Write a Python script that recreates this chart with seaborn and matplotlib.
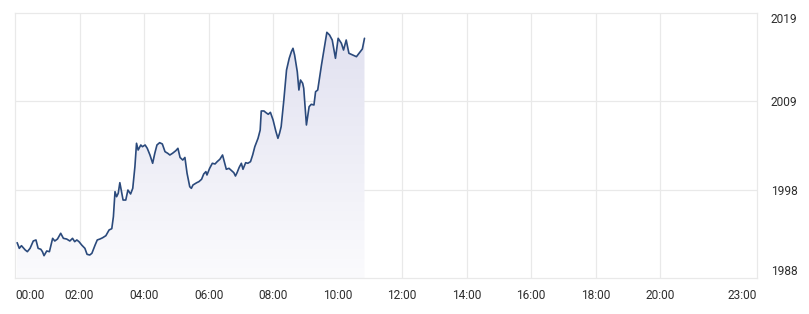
import numpy as np
import pandas as pd
import matplotlib
matplotlib.use("Agg")
import matplotlib.pyplot as plt
import seaborn as sns
from matplotlib.colors import LinearSegmentedColormap

# ---- data (minutes after 00:00, price) ----
minutes = [4, 8, 12, 19, 23, 28, 34, 39, 43, 48, 51, 54, 59, 64, 70, 74, 79, 85, 90, 96,
           102, 107, 111, 115, 119, 124, 130, 134, 139, 143, 149, 153, 158, 163, 169, 175,
           180, 183, 186, 189, 192, 195, 198, 201, 206, 210, 215, 219, 223, 226, 229, 234,
           237, 242, 246, 251, 256, 260, 264, 269, 274, 279, 284, 288, 293, 299, 303, 307,
           312, 316, 320, 325, 328, 331, 338, 342, 347, 351, 355, 357, 362, 367, 372, 376,
           381, 386, 390, 393, 398, 403, 407, 410, 413, 417, 421, 424, 429, 433, 438, 442,
           446, 452, 456, 458, 463, 466, 471, 475, 480, 485, 489, 492, 495, 500, 505, 510,
           514, 517, 520, 525, 528, 531, 535, 537, 542, 547, 551, 556, 559, 563, 570, 576,
           580, 585, 590, 596, 601, 607, 611, 616, 621, 628, 635, 640, 646, 650]
values = [1992.13, 1991.47, 1991.78, 1991.28, 1991.08, 1991.47, 1992.33, 1992.45, 1991.47,
          1991.36, 1991.08, 1990.61, 1991.16, 1991.08, 1992.64, 1992.33, 1992.56, 1993.23,
          1992.64, 1992.56, 1992.33, 1992.64, 1992.25, 1992.45, 1992.25, 1991.86, 1991.47,
          1990.77, 1990.69, 1990.89, 1991.86, 1992.45, 1992.56, 1992.71, 1992.95, 1993.62,
          1993.77, 1995.17, 1998.10, 1997.51, 1997.91, 1999.15, 1998.10, 1997.12, 1997.12,
          1998.29, 1997.83, 1998.49, 2001.02, 2003.76, 2002.97, 2003.56, 2003.36, 2003.56,
          2003.17, 2002.39, 2001.42, 2002.59, 2003.56, 2003.83, 2003.68, 2002.78, 2002.59,
          2002.39, 2002.59, 2002.89, 2003.17, 2002.10, 2001.80, 2002.10, 2000.25, 1998.68,
          1998.49, 1998.88, 1999.15, 1999.27, 1999.55, 2000.17, 2000.44, 2000.05, 2000.83,
          2001.42, 2001.34, 2001.61, 2001.89, 2002.39, 2001.42, 2000.72, 2000.83, 2000.55,
          2000.32, 1999.93, 2000.32, 2000.95, 2001.42, 2000.72, 2001.49, 2001.42, 2001.61,
          2002.39, 2003.36, 2004.34, 2005.31, 2007.54, 2007.54, 2007.38, 2007.15, 2007.38,
          2006.48, 2005.20, 2004.34, 2004.93, 2005.70, 2008.82, 2012.33, 2013.70, 2014.47,
          2014.87, 2014.09, 2012.13, 2009.99, 2011.16, 2010.78, 2010.19, 2005.90, 2008.04,
          2008.32, 2008.24, 2009.79, 2009.99, 2012.92, 2015.26, 2016.74, 2016.43, 2015.84,
          2013.70, 2016.04, 2015.46, 2014.67, 2015.84, 2014.29, 2014.09, 2013.89, 2014.29,
          2014.79, 2016.04]

x_ticks = [0, 120, 240, 360, 480, 600, 720, 840, 960, 1080, 1200, 1380]
x_labels = ["00:00", "02:00", "04:00", "06:00", "08:00", "10:00", "12:00", "14:00",
            "16:00", "18:00", "20:00", "23:00"]
y_ticks = [1988.0, 1998.333, 2008.667, 2019.0]
y_labels = ["1988", "1998", "2009", "2019"]

df = pd.DataFrame({"minute": minutes, "price": values})

sns.set_theme(style="white")
plt.rcParams["font.family"] = ["Roboto", "DejaVu Sans"]

W, H = 809, 314
fig = plt.figure(figsize=(W / 100, H / 100), dpi=100)
left, right, top, bottom = 15, 757, 13, 278
ax = fig.add_axes([left / W, 1 - bottom / H, (right - left) / W, (bottom - top) / H])

ax.set_xlim(0, 1380)
ax.set_ylim(1988, 2019)

# gradient fill under the line
poly = ax.fill_between(df["minute"], df["price"], 1988, color="none", lw=0)
cmap = LinearSegmentedColormap.from_list("g", ["#fbfbfd", "#e1e1f0"])
grad = np.linspace(0, 1, 256).reshape(-1, 1)
im = ax.imshow(grad, cmap=cmap, aspect="auto", origin="lower",
               extent=[0, 1380, 1988, 2016.8], zorder=1)
im.set_clip_path(poly.get_paths()[0], transform=ax.transData)

sns.lineplot(data=df, x="minute", y="price", ax=ax, color="#2b4a7c", lw=1.2, zorder=3)

grid_c = "#e9e9e9"
for xt in x_ticks[1:-1]:
    ax.axvline(xt, color=grid_c, lw=0.9, zorder=0)
for yt in y_ticks[1:-1]:
    ax.axhline(yt, color=grid_c, lw=0.9, zorder=0)
for s in ax.spines.values():
    s.set_color(grid_c)
    s.set_linewidth(0.9)

ax.set_xticks(x_ticks)
ax.set_xticklabels(x_labels)
ax.set_yticks(y_ticks)
ax.set_yticklabels(y_labels)
ax.yaxis.tick_right()
ax.tick_params(axis="both", length=0, labelsize=8.6, labelcolor="#2e2e2e")
ax.tick_params(axis="x", pad=8)
ax.tick_params(axis="y", pad=10)
xt = ax.get_xticklabels()
xt[0].set_ha("left")
xt[-1].set_ha("right")
yl = ax.get_yticklabels()
for lab in yl[1:-1]:
    lab.set_va("center_baseline")
yl[0].set_va("bottom")
yl[-1].set_va("top")
ax.set_xlabel("")
ax.set_ylabel("")

fig.savefig("out.png", dpi=100)
